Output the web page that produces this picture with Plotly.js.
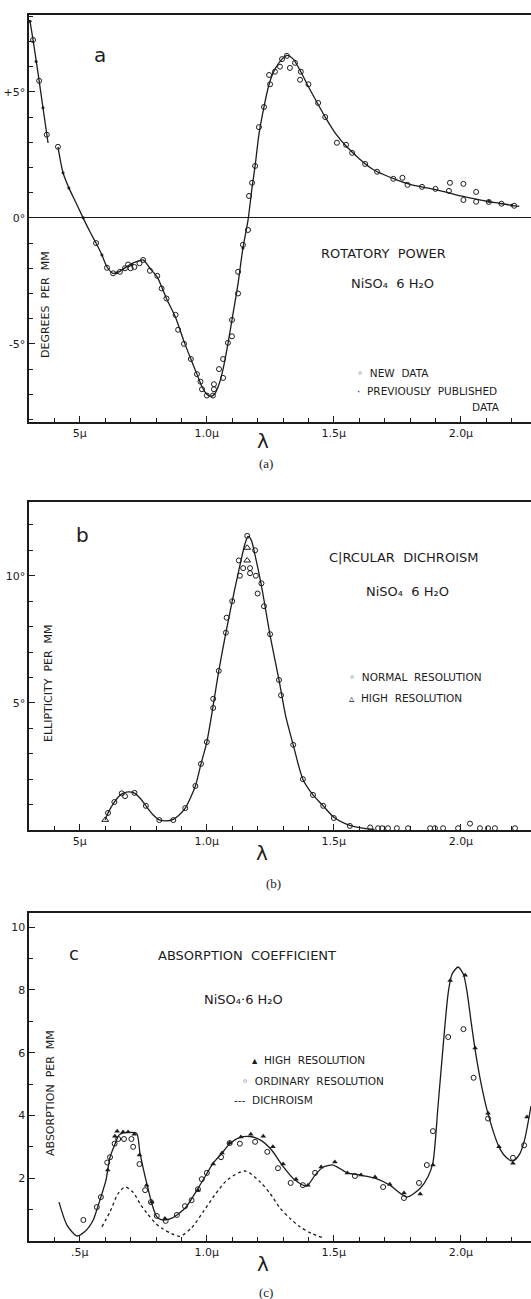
<!DOCTYPE html>
<html><head><meta charset="utf-8">
<script src="https://cdn.plot.ly/plotly-3.0.1.min.js"></script>
<style>html,body{margin:0;padding:0;background:#fff}#chart{width:531px;height:1299px}</style>
</head><body><div id="chart"></div>
<script>
// ---------- tick labels ----------
const xTickVals = [0.5, 1.0, 1.5, 2.0];
const xTickTextAB = ['5\u03bc', '1.0\u03bc', '1.5\u03bc', '2.0\u03bc'];
const xTickTextC  = ['.5\u03bc', '1.0\u03bc', '1.5\u03bc', '2.0\u03bc'];
const xMinorVals = [0.4,0.6,0.7,0.8,0.9,1.1,1.2,1.3,1.4,1.6,1.7,1.8,1.9,2.1,2.2];
const aTickVals = [-5, 0, 5];
const aTickText = ['-5\u00b0', '0\u00b0', '+5\u00b0'];
const aMinorVals = [-8,-7,-6,-4,-3,-2,-1,1,2,3,4,6,7,8];
const bTickVals = [5, 10];
const bTickText = ['5\u00b0', '10\u00b0'];
const bMinorVals = [1,2,3,4,6,7,8,9,11,12];
const cTickVals = [2, 4, 6, 8, 10];
const cTickText = ['2', '4', '6', '8', '10'];
const cMinorVals = [1,3,5,7,9];

// ---------- panel a : rotatory power ----------
const aCurveX = [0.304,0.316,0.340,0.355,0.375,null,0.414,0.434,0.457,0.485,
                 0.513,0.540,0.564,0.587,0.607,0.631,0.658,0.690,0.720,0.749,
                 0.776,0.805,0.841,0.877,0.910,0.937,0.961,0.981,1.000,1.016,
                 1.030,1.048,1.064,1.083,1.099,1.123,1.142,1.162,1.178,1.190,
                 1.205,1.225,1.245,1.268,1.296,1.316,1.340,1.370,1.400,1.438,
                 1.466,1.510,1.548,1.600,1.650,1.700,1.750,1.800,1.850,1.900,
                 1.950,2.000,2.050,2.100,2.150,2.200,2.230];
const aCurveY = [7.80,7.06,5.44,4.37,2.97,null,2.82,1.79,1.19,0.60,
                 0.00,-0.55,-1.00,-1.47,-1.95,-2.20,-2.12,-1.90,-1.75,-1.67,
                 -2.00,-2.35,-3.20,-3.95,-4.90,-5.60,-6.20,-6.70,-7.00,-7.08,
                 -7.00,-6.60,-6.00,-5.00,-4.05,-2.60,-1.20,-0.10,1.20,2.06,
                 3.30,4.40,5.30,5.90,6.30,6.45,6.30,5.80,5.20,4.50,
                 4.00,3.30,2.85,2.35,1.95,1.70,1.50,1.33,1.22,1.12,
                 1.00,0.87,0.76,0.66,0.58,0.50,0.46];
const aNewX = [0.316,0.340,0.370,0.414,0.564,0.607,0.631,0.658,0.678,0.690,
               0.700,0.715,0.735,0.749,0.776,0.805,0.822,0.841,0.877,0.887,
               0.910,0.937,0.961,0.975,0.981,1.000,1.024,1.028,1.028,1.048,
               1.064,1.064,1.083,1.099,1.099,1.123,1.123,1.142,1.162,1.166,
               1.178,1.190,1.205,1.225,1.245,1.249,1.268,1.288,1.296,1.315,
               1.327,1.347,1.367,1.370,1.400,1.438,1.466,1.512,1.548,1.572,
               1.623,1.670,1.734,1.770,1.790,1.847,1.900,1.953,1.957,2.010,
               2.010,2.060,2.060,2.110,2.160,2.210];
const aNewY = [7.06,5.44,3.30,2.82,-1.00,-1.98,-2.20,-2.14,-2.00,-1.85,
               -2.00,-1.95,-1.80,-1.67,-2.10,-2.30,-2.80,-3.20,-3.85,-4.44,
               -5.00,-5.60,-6.20,-6.50,-6.80,-7.05,-7.05,-6.80,-6.60,-6.00,
               -5.60,-6.35,-4.96,-4.70,-4.05,-3.00,-2.14,-1.07,-0.48,0.87,
               1.39,2.06,3.60,4.40,5.67,5.30,5.80,6.00,6.30,6.43,
               5.95,6.15,5.48,5.80,5.30,4.56,4.00,2.98,2.90,2.58,
               2.14,1.83,1.55,1.59,1.31,1.23,1.15,1.07,1.39,1.35,
               0.71,1.03,0.64,0.63,0.56,0.48];
const aOldX = [0.304,0.328,0.355,0.434,0.457,0.513,0.587,0.645,0.705,1.142,2.110,2.200];
const aOldY = [7.80,6.20,4.37,1.79,1.19,0.00,-1.47,-2.18,-1.85,-1.20,0.66,0.50];

// ---------- panel b : circular dichroism ----------
const bCurveX = [0.600,0.611,0.636,0.665,0.690,0.715,0.740,0.760,0.790,0.813,
                 0.840,0.868,0.890,0.915,0.955,0.977,1.000,1.025,1.047,1.075,
                 1.100,1.130,1.150,1.162,1.175,1.190,1.215,1.250,1.284,1.310,
                 1.340,1.378,1.418,1.458,1.500,1.563,1.620,1.660];
const bCurveY = [0.40,0.67,1.10,1.42,1.50,1.45,1.22,0.95,0.58,0.40,
                 0.36,0.42,0.58,0.86,1.73,2.60,3.46,4.90,6.26,7.76,
                 9.00,10.40,11.25,11.55,11.40,10.80,9.60,7.60,5.90,4.50,
                 3.35,2.00,1.38,0.95,0.50,0.18,0.06,0.02];
const bNormX = [0.611,0.636,0.665,0.678,0.715,0.760,0.813,0.868,0.915,0.955,
                0.977,1.000,1.025,1.025,1.047,1.075,1.078,1.100,1.130,1.126,
                1.143,1.159,1.170,1.170,1.190,1.193,1.200,1.215,1.225,1.249,
                1.284,1.292,1.340,1.378,1.418,1.458,1.500,1.563,1.643,1.674,
                1.690,1.713,1.748,1.792,1.879,1.898,1.930,1.989,2.036,2.075,
                2.107,2.134,2.213];
const bNormY = [0.67,1.10,1.44,1.33,1.46,0.95,0.39,0.39,0.86,1.73,
                2.60,3.46,4.80,5.16,6.26,7.76,8.35,9.00,10.0,10.6,
                10.3,11.57,10.3,10.1,11.0,10.0,9.30,9.70,8.80,7.70,
                5.90,5.30,3.35,2.00,1.38,0.95,0.47,0.16,0.10,0.07,
                0.07,0.07,0.07,0.07,0.07,0.07,0.07,0.07,0.25,0.07,
                0.07,0.07,0.07];
const bHighX = [0.600,1.159,1.159];
const bHighY = [0.40,11.10,10.60];

// ---------- panel c : absorption coefficient ----------
const cCurveX = [0.418,0.450,0.489,0.520,0.553,0.567,0.583,0.603,0.619,0.639,
                 0.655,0.675,0.700,0.724,0.737,0.763,0.787,0.803,0.820,0.838,
                 0.860,0.882,0.920,0.961,0.985,1.025,1.060,1.090,1.130,1.170,
                 1.210,1.255,1.296,1.347,1.393,1.426,1.457,1.497,1.553,1.603,
                 1.662,1.720,1.788,1.840,1.870,1.890,1.910,1.930,1.950,1.965,
                 1.989,2.010,2.025,2.040,2.056,2.080,2.107,2.150,2.180,2.205,
                 2.230,2.250,2.276];
const cCurveY = [1.24,0.50,0.16,0.30,0.67,1.00,1.40,1.94,2.67,3.10,
                 3.38,3.45,3.46,3.43,2.80,1.85,1.10,0.77,0.68,0.67,
                 0.72,0.83,1.10,1.62,1.94,2.48,2.80,3.10,3.30,3.33,
                 3.22,2.90,2.42,1.94,1.75,2.10,2.35,2.42,2.17,2.10,
                 2.00,1.78,1.40,1.68,2.04,2.50,4.30,6.20,7.90,8.50,
                 8.73,8.50,7.90,7.00,6.10,5.00,4.05,3.00,2.65,2.55,
                 2.75,3.20,4.30];
const cDichroX = [0.587,0.620,0.650,0.678,0.710,0.740,0.764,0.800,0.828,0.860,
                  0.894,0.940,0.985,1.030,1.080,1.150,1.210,1.250,1.288,1.330,
                  1.367,1.410,1.457];
const cDichroY = [0.45,0.95,1.50,1.72,1.55,1.15,0.89,0.55,0.38,0.24,
                  0.15,0.42,0.92,1.45,1.94,2.23,1.88,1.50,1.05,0.70,
                  0.45,0.25,0.10];
const cOrdX = [0.567,0.583,0.608,0.619,0.637,0.651,0.674,0.703,0.710,0.735,
               0.757,0.780,0.803,0.838,0.882,0.914,0.940,0.965,0.980,1.000,
               1.056,1.090,1.130,1.190,1.238,1.280,1.330,1.378,1.426,1.583,
               1.694,1.776,1.835,1.866,1.890,1.950,2.010,2.050,2.107,2.205,
               2.249,0.514];
const cOrdY = [1.08,1.40,2.50,2.67,3.10,3.25,3.25,3.25,3.00,2.45,
               1.62,1.24,0.80,0.64,0.83,1.11,1.30,1.65,1.97,2.17,
               2.67,3.12,3.10,3.16,2.84,2.32,1.85,1.78,2.17,2.07,
               1.72,1.37,1.85,2.42,3.50,6.50,6.75,5.20,3.90,2.65,
               3.05,0.67];
const cHighX = [0.610,0.638,0.647,0.670,0.690,0.714,0.735,0.763,0.783,0.835,
                0.965,1.025,1.060,1.090,1.134,1.173,1.222,1.260,1.300,1.351,
                1.398,1.450,1.504,1.553,1.607,1.662,1.720,1.776,1.840,1.890,
                1.958,2.017,2.056,2.107,2.150,2.205,2.260];
const cHighY = [2.26,3.34,3.50,3.47,3.47,3.40,2.74,1.78,1.24,0.72,
                1.62,2.45,2.80,3.12,3.31,3.40,3.34,3.00,2.45,1.97,
                1.78,2.36,2.52,2.17,2.10,2.04,1.81,1.53,1.50,2.42,
                8.30,8.47,6.15,4.07,3.00,2.48,3.95];

// ---------- drawing ----------
const W = 531, H = 1299;
const INK = '#1c1c1c';
const px = x => x / W;
const py = y => 1 - y / H;

const lineStyle = {color: INK, width: 1.3, shape: 'spline', smoothing: 0.7};
const openCircle = {symbol: 'circle-open', size: 5, color: INK, line: {width: 1, color: INK}};

const traces = [
  {x: aCurveX, y: aCurveY, xaxis: 'x', yaxis: 'y', mode: 'lines', line: lineStyle, connectgaps: false},
  {x: aNewX, y: aNewY, xaxis: 'x', yaxis: 'y', mode: 'markers', marker: openCircle},
  {x: aOldX, y: aOldY, xaxis: 'x', yaxis: 'y', mode: 'markers', marker: {symbol: 'circle', size: 3, color: INK}},

  {x: bCurveX, y: bCurveY, xaxis: 'x2', yaxis: 'y2', mode: 'lines', line: lineStyle},
  {x: bNormX, y: bNormY, xaxis: 'x2', yaxis: 'y2', mode: 'markers', marker: openCircle},
  {x: bHighX, y: bHighY, xaxis: 'x2', yaxis: 'y2', mode: 'markers',
   marker: {symbol: 'triangle-up-open', size: 6, color: INK, line: {width: 1, color: INK}}},

  {x: cDichroX, y: cDichroY, xaxis: 'x3', yaxis: 'y3', mode: 'lines',
   line: {color: INK, width: 1.3, dash: 'dot', shape: 'spline', smoothing: 0.8}},
  {x: cCurveX, y: cCurveY, xaxis: 'x3', yaxis: 'y3', mode: 'lines', line: lineStyle},
  {x: cOrdX, y: cOrdY, xaxis: 'x3', yaxis: 'y3', mode: 'markers', marker: openCircle},
  {x: cHighX, y: cHighY, xaxis: 'x3', yaxis: 'y3', mode: 'markers',
   marker: {symbol: 'triangle-up', size: 5, color: INK}}
];

const tickFont = {family: 'DejaVu Sans', size: 11, color: INK};
function minorTicks(vals) {
  return {tickmode: 'array', tickvals: vals, ticks: 'inside', ticklen: 4, tickwidth: 1, tickcolor: INK, showgrid: false};
}
function xAxis(anchor, ticktext) {
  return {
    domain: [px(29), 1], range: [0.3, 2.276], anchor: anchor,
    showline: true, linecolor: INK, linewidth: 1.6, mirror: true,
    ticks: 'inside', ticklen: 6, tickwidth: 1, tickcolor: INK,
    tickmode: 'array', tickvals: xTickVals, ticktext: ticktext,
    minor: minorTicks(xMinorVals),
    tickfont: tickFont, showgrid: false, zeroline: false, fixedrange: true
  };
}
function yAxis(anchor, top, bottom, range, vals, text, minorVals, zero) {
  return {
    domain: [py(bottom), py(top)], range: range, anchor: anchor,
    showline: true, linecolor: INK, linewidth: 1.6,
    ticks: 'inside', ticklen: 6, tickwidth: 1, tickcolor: INK,
    tickmode: 'array', tickvals: vals, ticktext: text,
    minor: minorTicks(minorVals),
    tickfont: tickFont, showgrid: false,
    zeroline: zero, zerolinecolor: INK, zerolinewidth: 1, fixedrange: true
  };
}

const lab = {family: 'DejaVu Sans', color: INK};
function ann(text, x, y, size, opts) {
  return Object.assign({text: text, x: px(x), y: py(y), xref: 'paper', yref: 'paper',
    showarrow: false, xanchor: 'center', yanchor: 'middle',
    font: Object.assign({}, lab, {size: size})}, opts || {});
}
const serif = {family: 'Liberation Serif', size: 13, color: INK};

const annotations = [
  // panel a
  ann('a', 100, 55, 20),
  ann('ROTATORY  POWER', 383, 253, 13),
  ann('NiSO\u2084  6 H\u2082O', 392, 283, 13),
  ann('\u25e6  NEW  DATA', 355, 373, 10.5, {xanchor: 'left'}),
  ann('\u00b7  PREVIOUSLY  PUBLISHED', 355, 391, 10.5, {xanchor: 'left'}),
  ann('DATA', 486, 407, 10.5),
  ann('DEGREES  PER  MM', 45, 305, 11, {textangle: -90}),
  ann('\u03bb', 263, 441, 20),
  ann('(a)', 266, 463, 13, {font: serif}),
  // panel b
  ann('b', 82, 535, 20),
  ann('C|RCULAR  DICHROISM', 403, 558, 13),
  ann('NiSO\u2084  6 H\u2082O', 407, 591, 13),
  ann('\u25e6  NORMAL  RESOLUTION', 347, 677, 10.5, {xanchor: 'left'}),
  ann('\u25b5  HIGH  RESOLUTION', 347, 698, 10.5, {xanchor: 'left'}),
  ann('ELLIPTICITY  PER  MM', 49, 683, 11, {textangle: -90}),
  ann('\u03bb', 262, 853, 20),
  ann('(b)', 274, 883, 13, {font: serif}),
  // panel c
  ann('c', 74, 953, 18),
  ann('ABSORPTION  COEFFICIENT', 247, 955, 13),
  ann('NiSO\u2084\u00b76 H\u2082O', 243, 999, 13),
  ann('\u25b4  HIGH  RESOLUTION', 250, 1060, 10.5, {xanchor: 'left'}),
  ann('\u25e6  ORDINARY  RESOLUTION', 240, 1081, 10.5, {xanchor: 'left'}),
  ann('---  DICHROISM', 232, 1100, 10.5, {xanchor: 'left'}),
  ann('ABSORPTION  PER  MM', 50, 1093, 11, {textangle: -90}),
  ann('\u03bb', 263, 1264, 20),
  ann('(c)', 266, 1292, 13, {font: serif})
];

const layout = {
  width: W, height: H,
  margin: {l: 0, r: 0, t: 0, b: 0},
  paper_bgcolor: '#ffffff', plot_bgcolor: '#ffffff',
  showlegend: false,
  font: {family: 'DejaVu Sans', color: INK},
  xaxis: xAxis('y', xTickTextAB),
  yaxis: yAxis('x', 15, 422, [-8.1, 8.05], aTickVals, aTickText, aMinorVals, true),
  xaxis2: xAxis('y2', xTickTextAB),
  yaxis2: yAxis('x2', 502, 830, [0, 12.9], bTickVals, bTickText, bMinorVals, false),
  xaxis3: xAxis('y3', xTickTextC),
  yaxis3: yAxis('x3', 913, 1241, [0, 10.45], cTickVals, cTickText, cMinorVals, false),
  annotations: annotations
};

Plotly.newPlot('chart', traces, layout, {staticPlot: true, displayModeBar: false});
</script></body></html>
